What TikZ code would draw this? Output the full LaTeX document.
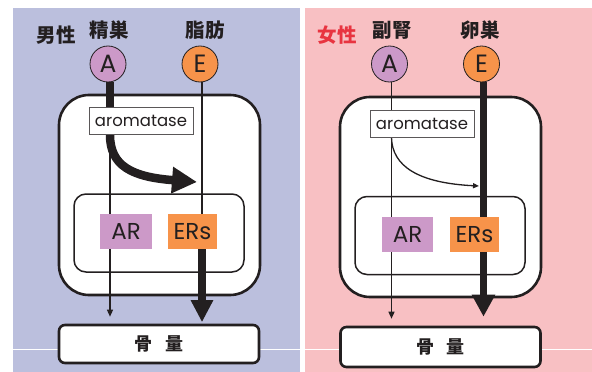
\documentclass[tikz,border=0pt]{standalone}
\usepackage{fontspec}
\setmainfont{Poppins}
\newfontfamily\jp{Noto Sans CJK JP}
\usetikzlibrary{arrows.meta}
\definecolor{bgL}{HTML}{BBBFDD}
\definecolor{bgR}{HTML}{F8C0C3}
\definecolor{apurp}{HTML}{CC99C8}
\definecolor{eorng}{HTML}{F7934A}
\definecolor{ink}{HTML}{231F20}
\definecolor{femred}{HTML}{E83440}
\pgfdeclarelayer{bglayer}
\pgfdeclarelayer{linelayer}
\pgfsetlayers{bglayer,linelayer,main}
\tikzset{
  title/.style={font=\jp\bfseries\fontsize{19.5}{19.5}\selectfont, text=ink, inner sep=0},
  hormone/.style={circle, draw=ink, line width=0.8pt, minimum size=36pt, inner sep=0, font=\fontsize{25}{25}\selectfont, text=ink},
  cellbox/.style={draw=ink, line width=2.6pt, fill=white, rounded corners=30pt, inner sep=0, minimum width=201pt, minimum height=200pt},
  nucbox/.style={draw=ink, line width=1.5pt, fill=white, rounded corners=12pt, inner sep=0, minimum height=78pt},
  enzyme/.style={draw=ink!75, line width=0.7pt, fill=white, inner sep=0, minimum width=104pt, minimum height=27pt, font=\fontsize{16.5}{16.5}\selectfont, text=ink},
  receptor/.style={inner sep=0, minimum height=35pt, font=\fontsize{23}{23}\selectfont, text=ink},
  bonebox/.style={draw=ink, line width=2.6pt, fill=white, rounded corners=6pt, inner sep=0, minimum width=200pt, font=\jp\bfseries\fontsize{18}{18}\selectfont, text=ink},
  thinline/.style={draw=ink, line width=1.3pt},
  thinarrow/.style={thinline, -{Triangle[length=7pt,width=6pt]}},
  thickline/.style={draw=ink, line width=8.5pt},
}
\begin{document}
\begin{tikzpicture}[x=1pt,y=-1pt]
\useasboundingbox (0,0) rectangle (592,372);
\begin{pgfonlayer}{bglayer}
  \fill[white] (0,0) rectangle (592,372);
  \fill[bgL] (13,8) rectangle (300,372);
  \fill[bgR] (305,8) rectangle (592,372);
  \draw[white, line width=0.8pt] (13,349) -- (300,349);
  \draw[white, line width=0.8pt] (305,349) -- (592,349);
  % left cell
  \node[cellbox] (cellL) at (159.5,195) {};
  \node[nucbox, minimum width=170pt] (nucL) at (159,233) {};
  % right cell
  \node[cellbox] (cellR) at (440.5,197) {};
  \node[nucbox, minimum width=170pt] (nucR) at (440,235.5) {};
\end{pgfonlayer}

% ---------- left panel ----------
\node[title] (maleL) at (56,35) {男性};
\node[title] (srcA1) at (109,30) {精巣};
\node[title] (srcE1) at (205,30) {脂肪};
\node[hormone, fill=apurp] (A1) at (108,64) {A};
\node[hormone, fill=eorng] (E1) at (200,64) {E};
\node[enzyme] (arom1) at (141,121) {aromatase};
\node[receptor, fill=apurp, minimum width=52pt] (AR1) at (126,231.5) {AR};
\node[receptor, fill=eorng, minimum width=49pt] (ER1) at (192.5,231.5) {ERs};
\node[bonebox, minimum height=38pt] (bone1) at (159,344) {骨\hspace{0.7em}量};

\coordinate (a1) at ([xshift=2pt]A1.south);
\coordinate (e1) at ([xshift=2pt]E1.south);
\coordinate (curveEnd1) at (197,182);
\begin{pgfonlayer}{linelayer}
  \draw[thickline] (a1) -- (a1 |- arom1.north);
  \draw[thinarrow] (a1 |- arom1.south) -- ([yshift=7pt]a1 |- bone1.north);
  \draw[thickline, -{Triangle[length=25pt,width=25pt]}]
    (a1 |- arom1.south) .. controls (110,166) and (132,177) .. (curveEnd1);
  \draw[thinline] (e1) -- (e1 |- ER1.north);
  \draw[thickline, line width=7.5pt, -{Triangle[length=22pt,width=21pt]}]
    (e1 |- ER1.south) -- ([yshift=1.5pt]e1 |- bone1.north);
\end{pgfonlayer}

% ---------- right panel ----------
\node[title, text=femred] (femR) at (337,35) {女性};
\node[title] (srcA2) at (392,30) {副腎};
\node[title] (srcE2) at (480,30) {卵巣};
\node[hormone, fill=apurp] (A2) at (389.5,64) {A};
\node[hormone, fill=eorng] (E2) at (481.5,64) {E};
\node[enzyme] (arom2) at (422,123.5) {aromatase};
\node[receptor, fill=apurp, minimum width=51pt] (AR2) at (407.5,234.5) {AR};
\node[receptor, fill=eorng, minimum width=49pt] (ER2) at (474.5,234.5) {ERs};
\node[bonebox, minimum height=40pt] (bone2) at (440.5,347) {骨\hspace{0.7em}量};

\coordinate (a2) at ([xshift=2pt]A2.south);
\coordinate (e2) at ([xshift=2pt]E2.south);
\coordinate (curveEnd2) at (479,186);
\begin{pgfonlayer}{linelayer}
  \draw[thinline] (a2) -- (a2 |- arom2.north);
  \draw[thinarrow] (a2 |- arom2.south) -- ([yshift=7pt]a2 |- bone2.north);
  \draw[thinarrow, -{Triangle[length=6pt,width=5pt]}]
    (a2 |- arom2.south) .. controls (392,166) and (418,183) .. (curveEnd2);
  \draw[thickline, line width=7pt, -{Triangle[length=22pt,width=22pt]}]
    (e2) -- ([yshift=9pt]e2 |- bone2.north);
\end{pgfonlayer}
\end{tikzpicture}
\end{document}
